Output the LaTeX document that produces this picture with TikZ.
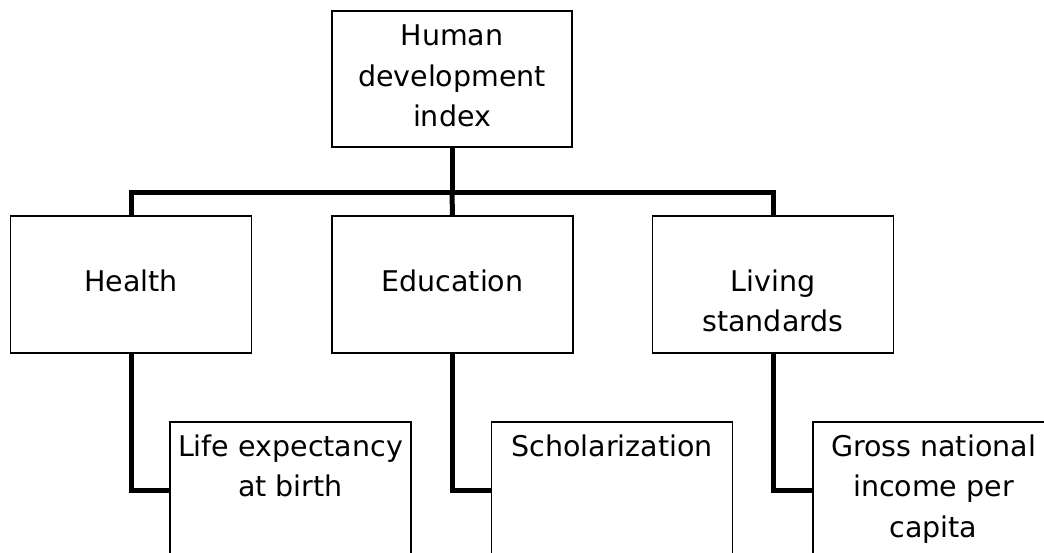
\documentclass[tikz,border=0pt]{standalone}
\usepackage{fontspec}
\setmainfont{DejaVu Sans}
\begin{document}
\begin{tikzpicture}[x=1pt,y=-1pt,
  box/.style={draw=black,line width=1.2pt,fill=white,inner sep=0pt,
    minimum width=241pt,minimum height=137pt},
  lbl/.style={anchor=north,inner sep=0pt,align=center,
    font=\fontsize{28.5}{40.5}\selectfont},
  conn/.style={line width=5pt,line join=miter,draw=black}]
\useasboundingbox (0,0) rectangle (1044,553);

% boxes
\node[box,minimum width=240pt,minimum height=136pt] (hdi) at (452,79) {};
\node[box] (health) at (131,284.5) {};
\node[box] (edu)    at (452.5,284.5) {};
\node[box] (living) at (773,284.5) {};
\node[box] (life)   at (290.5,490.5) {};
\node[box] (schol)  at (612,490.5) {};
\node[box] (gross)  at (933.5,490.5) {};

% texts (north = first baseline - strut height)
\node[lbl] (hdi-t)    at (452,17.4)   {\strut Human\\development\\index};
\node[lbl] (health-t) at (131,262.7)  {\strut Health};
\node[lbl] (edu-t)    at (452.5,262.7){\strut Education};
\node[lbl] (living-t) at (773,262.7)  {\strut Living\\standards};
\node[lbl] (life-t)   at (290.5,427.7){\strut Life expectancy\\at birth};
\node[lbl] (schol-t)  at (612,427.7)  {\strut Scholarization};
\node[lbl] (gross-t)  at (933.5,427.7){\strut Gross national\\income per\\capita};

% connectors
\coordinate (bus) at (452,193);
\draw[conn] (hdi.south) -- (bus);
\draw[conn] (health.north) |- (bus) -| (living.north);
\draw[conn] (bus) -- (edu.north);
\draw[conn] (health.south) |- (life.west);
\draw[conn] (edu.south) |- (schol.west);
\draw[conn] (living.south) |- (gross.west);
\end{tikzpicture}
\end{document}
